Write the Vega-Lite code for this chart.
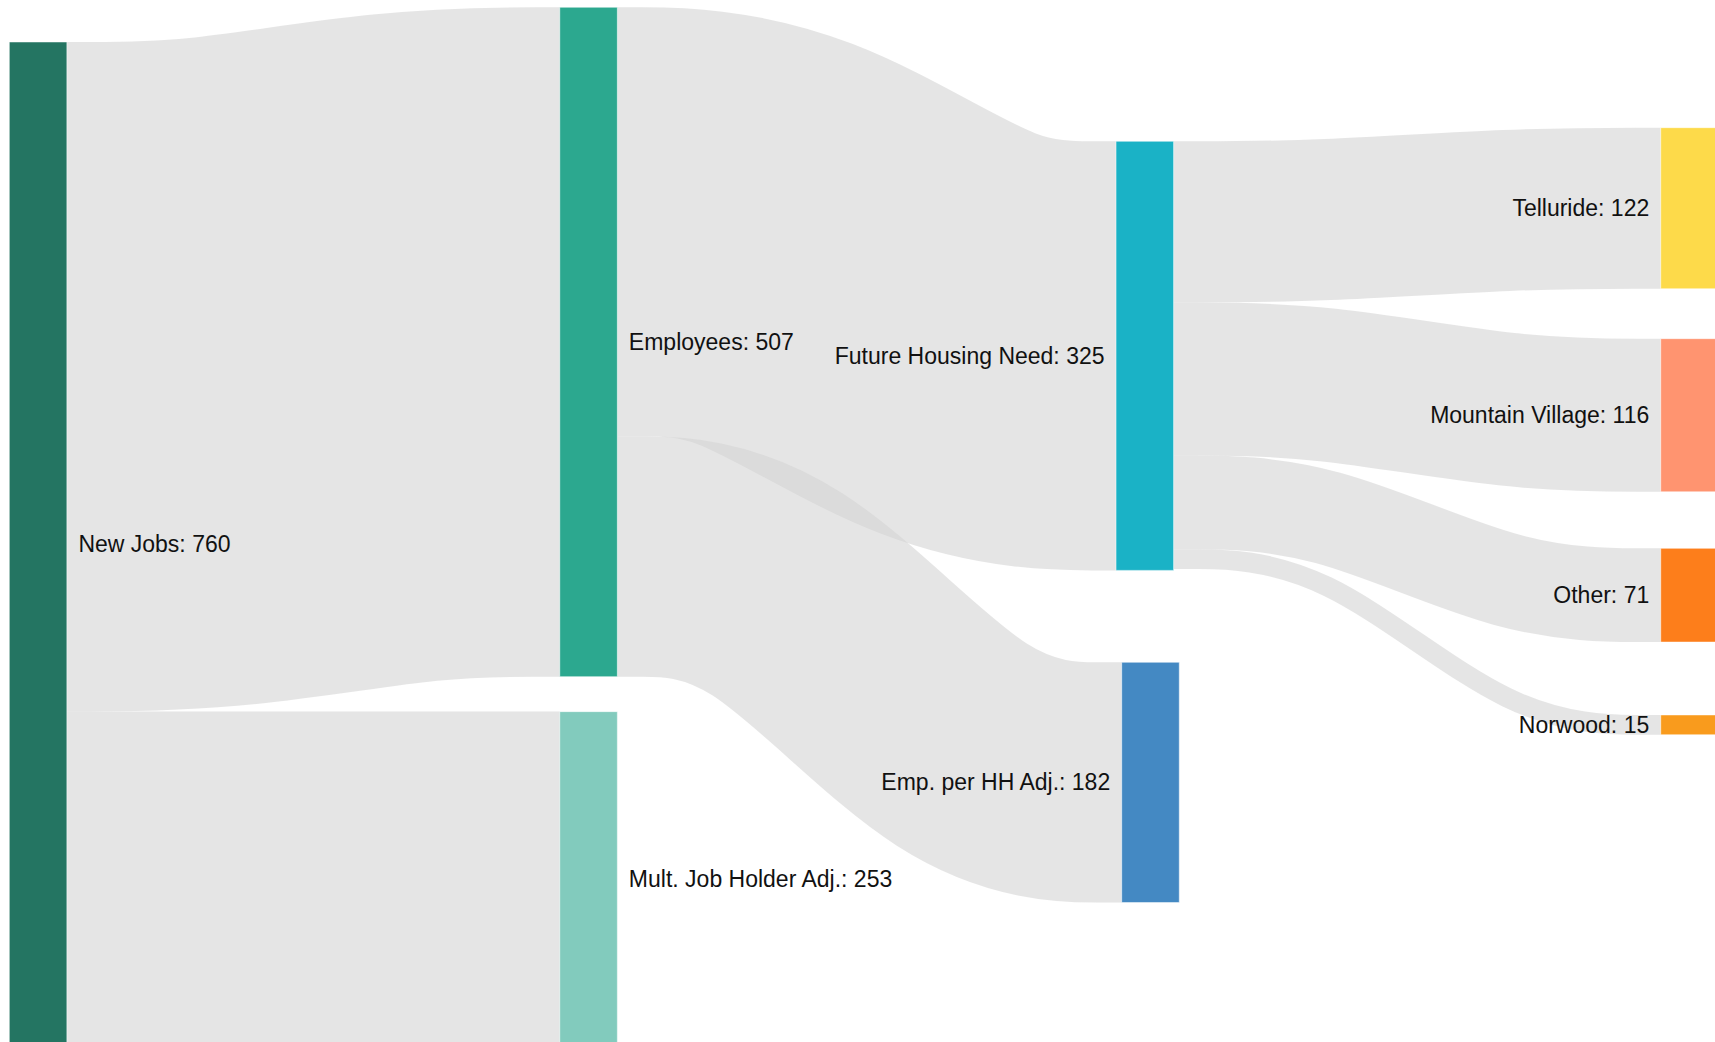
{
  "$schema": "https://vega.github.io/schema/vega-lite/v6.json",
  "width": 1715,
  "height": 1042,
  "padding": 0,
  "autosize": {"type": "none"},
  "background": "white",
  "config": {"view": {"stroke": null}},
  "datasets": {
    "nodes": [
      {"name": "New Jobs", "label": "New Jobs: 760", "col": 0, "x0": 0, "x1": 0.1046, "y0": 31.8, "y1": 791.8},
      {"name": "Employees", "label": "Employees: 507", "col": 1, "x0": 1.0, "x1": 1.1046, "y0": 5.5, "y1": 512.5},
      {"name": "Mult. Job Holder Adj.", "label": "Mult. Job Holder Adj.: 253", "col": 1, "x0": 1.0, "x1": 1.1046, "y0": 539.0, "y1": 792.0},
      {"name": "Future Housing Need", "label": "Future Housing Need: 325", "col": 2, "x0": 2.0105, "x1": 2.1151, "y0": 107.0, "y1": 432.0},
      {"name": "Emp. per HH Adj.", "label": "Emp. per HH Adj.: 182", "col": 2, "x0": 2.0208, "x1": 2.1254, "y0": 501.6, "y1": 683.6},
      {"name": "Telluride", "label": "Telluride: 122", "col": 3, "x0": 3.0, "x1": 3.1046, "y0": 96.7, "y1": 218.7},
      {"name": "Mountain Village", "label": "Mountain Village: 116", "col": 3, "x0": 3.0, "x1": 3.1046, "y0": 256.5, "y1": 372.5},
      {"name": "Other", "label": "Other: 71", "col": 3, "x0": 3.0, "x1": 3.1046, "y0": 415.3, "y1": 486.3},
      {"name": "Norwood", "label": "Norwood: 15", "col": 3, "x0": 3.0, "x1": 3.1046, "y0": 541.5, "y1": 556.5}
    ],
    "links": [
      {"link": "L1", "value": 507, "x": 0.1046, "y": 285.3},
      {"link": "L1", "value": 507, "x": 0.3732, "y": 285.3},
      {"link": "L1", "value": 507, "x": 0.7314, "y": 259.0},
      {"link": "L1", "value": 507, "x": 1.0, "y": 259.0},
      {"link": "L2", "value": 253, "x": 0.1046, "y": 665.4},
      {"link": "L2", "value": 253, "x": 0.3732, "y": 665.4},
      {"link": "L2", "value": 253, "x": 0.7314, "y": 665.4},
      {"link": "L2", "value": 253, "x": 1.0, "y": 665.4},
      {"link": "L3", "value": 325, "x": 1.1046, "y": 168.0},
      {"link": "L3", "value": 325, "x": 1.3764, "y": 168.0},
      {"link": "L3", "value": 325, "x": 1.7387, "y": 269.5},
      {"link": "L3", "value": 325, "x": 2.0105, "y": 269.5},
      {"link": "L4", "value": 182, "x": 1.1046, "y": 421.5},
      {"link": "L4", "value": 182, "x": 1.3795, "y": 421.5},
      {"link": "L4", "value": 182, "x": 1.7459, "y": 592.6},
      {"link": "L4", "value": 182, "x": 2.0208, "y": 592.6},
      {"link": "L5", "value": 122, "x": 2.1151, "y": 168.0},
      {"link": "L5", "value": 122, "x": 2.3806, "y": 168.0},
      {"link": "L5", "value": 122, "x": 2.7345, "y": 157.7},
      {"link": "L5", "value": 122, "x": 3.0, "y": 157.7},
      {"link": "L6", "value": 116, "x": 2.1151, "y": 287.0},
      {"link": "L6", "value": 116, "x": 2.3806, "y": 287.0},
      {"link": "L6", "value": 116, "x": 2.7345, "y": 314.5},
      {"link": "L6", "value": 116, "x": 3.0, "y": 314.5},
      {"link": "L7", "value": 71, "x": 2.1151, "y": 380.5},
      {"link": "L7", "value": 71, "x": 2.3806, "y": 380.5},
      {"link": "L7", "value": 71, "x": 2.7345, "y": 450.8},
      {"link": "L7", "value": 71, "x": 3.0, "y": 450.8},
      {"link": "L8", "value": 15, "x": 2.1151, "y": 423.5},
      {"link": "L8", "value": 15, "x": 2.3806, "y": 423.5},
      {"link": "L8", "value": 15, "x": 2.7345, "y": 549.0},
      {"link": "L8", "value": 15, "x": 3.0, "y": 549.0}
    ]
  },
  "layer": [
    {
      "data": {"name": "links"},
      "mark": {"type": "line", "interpolate": "basis", "stroke": "#d3d3d3", "strokeOpacity": 0.6, "strokeCap": "butt", "clip": true},
      "encoding": {
        "x": {"field": "x", "type": "quantitative", "scale": {"domain": [-0.0169, 3.0986], "nice": false, "zero": false}, "axis": null},
        "y": {"field": "y", "type": "quantitative", "scale": {"domain": [0, 789.2], "nice": false, "zero": false, "reverse": true}, "axis": null},
        "detail": {"field": "link", "type": "nominal"},
        "strokeWidth": {"field": "value", "type": "quantitative", "scale": {"domain": [0, 789.2], "range": [0, 1042], "zero": true}, "legend": null}
      }
    },
    {
      "data": {"name": "nodes"},
      "mark": {"type": "rect", "clip": true, "stroke": "#ffffff", "strokeWidth": 1, "strokeOpacity": 0.5},
      "encoding": {
        "x": {"field": "x0", "type": "quantitative", "scale": {"domain": [-0.0169, 3.0986], "nice": false, "zero": false}, "axis": null},
        "x2": {"field": "x1"},
        "y": {"field": "y0", "type": "quantitative", "scale": {"domain": [0, 789.2], "nice": false, "zero": false, "reverse": true}, "axis": null},
        "y2": {"field": "y1"},
        "color": {
          "field": "name", "type": "nominal", "legend": null,
          "scale": {
            "domain": ["New Jobs", "Employees", "Mult. Job Holder Adj.", "Future Housing Need", "Emp. per HH Adj.", "Telluride", "Mountain Village", "Other", "Norwood"],
            "range": ["#247562", "#2ca88f", "#82cbbd", "#1ab2c6", "#4489c3", "#fdda4a", "#ff9470", "#fd7e1b", "#f99b1d"]
          }
        }
      }
    },
    {
      "data": {"name": "nodes"},
      "transform": [{"filter": "datum.col < 2"}, {"calculate": "(datum.y0 + datum.y1) / 2", "as": "ymid"}],
      "mark": {"type": "text", "align": "left", "baseline": "middle", "dx": 11.5, "dy": 1, "font": "Liberation Sans", "fontSize": 23, "fill": "#111111"},
      "encoding": {
        "x": {"field": "x1", "type": "quantitative", "scale": {"domain": [-0.0169, 3.0986], "nice": false, "zero": false}, "axis": null},
        "y": {"field": "ymid", "type": "quantitative", "scale": {"domain": [0, 789.2], "nice": false, "zero": false, "reverse": true}, "axis": null},
        "text": {"field": "label"}
      }
    },
    {
      "data": {"name": "nodes"},
      "transform": [{"filter": "datum.col >= 2"}, {"calculate": "(datum.y0 + datum.y1) / 2", "as": "ymid"}],
      "mark": {"type": "text", "align": "right", "baseline": "middle", "dx": -11.5, "dy": 1, "font": "Liberation Sans", "fontSize": 23, "fill": "#111111"},
      "encoding": {
        "x": {"field": "x0", "type": "quantitative", "scale": {"domain": [-0.0169, 3.0986], "nice": false, "zero": false}, "axis": null},
        "y": {"field": "ymid", "type": "quantitative", "scale": {"domain": [0, 789.2], "nice": false, "zero": false, "reverse": true}, "axis": null},
        "text": {"field": "label"}
      }
    }
  ]
}
